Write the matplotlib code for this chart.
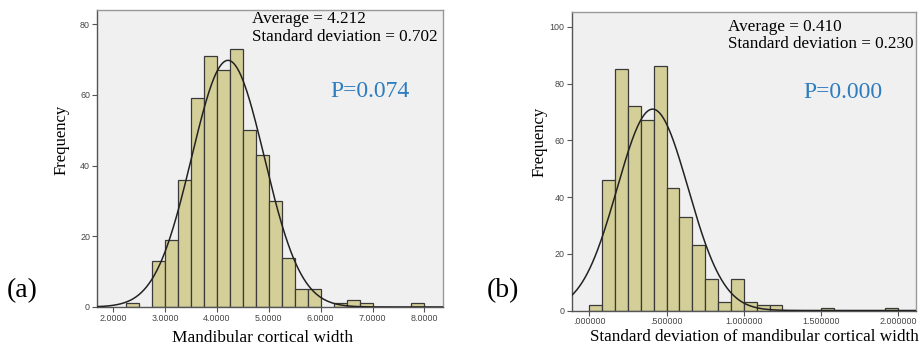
import numpy as np
import matplotlib
matplotlib.use("Agg")
import matplotlib.pyplot as plt

# (a) mandibular cortical width, bins of 0.25 starting at 2.25
a_start = 2.25
a_width = 0.25
a_counts = [1, 0, 13, 19, 36, 59, 71, 67, 73, 50, 43, 30, 14, 5, 5, 0, 1, 2, 1, 0, 0, 0, 1]
a_mean, a_sd = 4.212, 0.702
a_ticks = [2, 3, 4, 5, 6, 7, 8]
a_ticklabels = ["2.0000", "3.0000", "4.0000", "5.0000", "6.0000", "7.0000", "8.0000"]

# (b) standard deviation of mandibular cortical width, bins of 1/12 starting at 0
b_start = 0.0
b_width = 1 / 12
b_counts = [2, 46, 85, 72, 67, 86, 43, 33, 23, 11, 3, 11, 3, 2, 2, 0, 0, 0, 1, 0, 0, 0, 0, 1]
b_mean, b_sd = 0.410, 0.230
b_ticks = [0, 0.5, 1.0, 1.5, 2.0]
b_ticklabels = [".000000", ".500000", "1.000000", "1.500000", "2.000000"]

W, H = 922, 349
BAR = "#d4cf98"
BG = "#f0f0f0"
BLUE = "#2e7cc0"
SERIF = "Liberation Serif"
SANS = "Liberation Sans"

fig = plt.figure(figsize=(W / 100, H / 100), dpi=100)


def px(x, y):
    return x / W, 1 - y / H


def panel(rect, start, width, counts, mean, sd, xlim, ylim, yticks, xticks, xticklabels):
    ax = fig.add_axes(rect)
    ax.set_facecolor(BG)
    edges = start + width * np.arange(len(counts))
    cnt = np.array(counts)
    keep = cnt > 0
    ax.bar(edges[keep], cnt[keep], width=width, align="edge", color=BAR,
           edgecolor="#3a3a3a", linewidth=0.9, zorder=2)
    n = cnt.sum()
    xs = np.linspace(xlim[0], xlim[1], 400)
    ys = n * width * np.exp(-0.5 * ((xs - mean) / sd) ** 2) / (sd * np.sqrt(2 * np.pi))
    ax.plot(xs, ys, color="#222222", lw=1.1, zorder=3)
    ax.set_xlim(*xlim)
    ax.set_ylim(*ylim)
    ax.set_yticks(yticks)
    ax.set_xticks(xticks)
    ax.set_xticklabels(xticklabels)
    for lab in ax.get_xticklabels() + ax.get_yticklabels():
        lab.set_fontfamily(SANS)
        lab.set_fontsize(6.4)
        lab.set_color("#444444")
    ax.tick_params(direction="out", length=3.5, width=0.8, color="#555555", pad=1.5)
    ax.spines["left"].set_color("#555555")
    ax.spines["bottom"].set_color("#555555")
    ax.spines["top"].set_color("#999999")
    ax.spines["right"].set_color("#999999")
    for s in ax.spines.values():
        s.set_linewidth(1.0)
    return ax


panel([97 / W, 1 - 307 / H, 346 / W, 297 / H], a_start, a_width, a_counts, a_mean, a_sd,
      (1.685, 8.36), (0, 84), [0, 20, 40, 60, 80], a_ticks, a_ticklabels)
panel([571.7 / W, 1 - 310.5 / H, 344.3 / W, 298.5 / H], b_start, b_width, b_counts, b_mean, b_sd,
      (-0.114, 2.115), (0, 105.2), [0, 20, 40, 60, 80, 100], b_ticks, b_ticklabels)

# annotations
fig.text(*px(252, 19), "Average = 4.212", family=SERIF, fontsize=12.3, va="center")
fig.text(*px(252, 36.7), "Standard deviation = 0.702", family=SERIF, fontsize=12.3, va="center")
fig.text(*px(728, 26.7), "Average = 0.410", family=SERIF, fontsize=12.3, va="center")
fig.text(*px(728, 44.3), "Standard deviation = 0.230", family=SERIF, fontsize=12.3, va="center")
fig.text(*px(330, 92), "P=0.074", family=SERIF, fontsize=17, color=BLUE, va="center")
fig.text(*px(803, 93), "P=0.000", family=SERIF, fontsize=17, color=BLUE, va="center")

# axis labels
fig.text(*px(61.7, 140), "Frequency", family=SERIF, fontsize=12, rotation=90, ha="center", va="center")
fig.text(*px(540, 142), "Frequency", family=SERIF, fontsize=12, rotation=90, ha="center", va="center")
fig.text(*px(262.5, 338), "Mandibular cortical width", family=SERIF, fontsize=12.4, ha="center", va="center")
fig.text(*px(754, 337), "Standard deviation of mandibular cortical width", family=SERIF,
         fontsize=12.3, ha="center", va="center")

# panel letters
fig.text(*px(7, 291), "(a)", family=SERIF, fontsize=20, va="center")
fig.text(*px(487, 291), "(b)", family=SERIF, fontsize=20, va="center")

fig.savefig("out.png", dpi=100, facecolor="white")
